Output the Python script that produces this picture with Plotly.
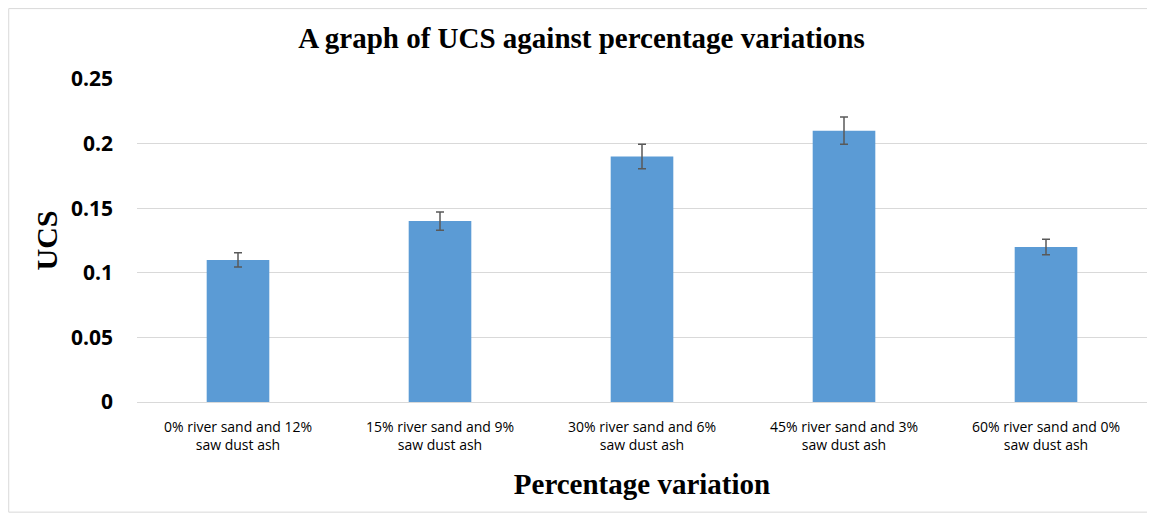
import plotly.graph_objects as go

# data
categories = ['0% river sand and 12%<br>saw dust ash',
              '15% river sand and 9%<br>saw dust ash',
              '30% river sand and 6%<br>saw dust ash',
              '45% river sand and 3%<br>saw dust ash',
              '60% river sand and 0%<br>saw dust ash']
ucs = [0.11, 0.14, 0.19, 0.21, 0.12]
ucs_err = [0.0055, 0.007, 0.0095, 0.0105, 0.006]
y_ticks = [0, 0.05, 0.1, 0.15, 0.2, 0.25]
y_tick_text = ['0', '0.05', '0.1', '0.15', '0.2', '0.25']

fig = go.Figure(go.Bar(
    x=categories, y=ucs,
    marker=dict(color='#5B9BD5', line=dict(width=0)),
    error_y=dict(type='data', array=ucs_err, visible=True,
                 color='#595959', thickness=1.5, width=4),
))

# page body has an 8px margin, so the figure is a little smaller than the window
fig.update_layout(
    width=1147, height=508,
    title=dict(text='<b>A graph of UCS against percentage variations</b>',
               x=0.5, xanchor='center', y=0.941, yanchor='middle',
               font=dict(family='Liberation Serif', size=29, color='black')),
    plot_bgcolor='white', paper_bgcolor='white',
    bargap=0.69, showlegend=False,
    margin=dict(l=129, r=8, t=71, b=114),
    # light frame around the whole chart
    shapes=[dict(type='rect', xref='paper', yref='paper',
                 x0=-0.127, x1=1.003, y0=-0.341, y1=1.218,
                 line=dict(color='#D9D9D9', width=1))],
)

fig.update_xaxes(
    showgrid=False, showline=True, linecolor='#D9D9D9', linewidth=1,
    tickfont=dict(family='Open Sans', size=14, color='black'),
    ticklabelstandoff=12,
    title=dict(text='<b>Percentage variation</b>', standoff=20,
               font=dict(family='Liberation Serif', size=29, color='black')),
)

fig.update_yaxes(
    range=[0, 0.25], tickvals=y_ticks, ticktext=y_tick_text,
    showgrid=True, gridcolor='#D9D9D9', gridwidth=1, zeroline=False,
    tickfont=dict(family='Open Sans', size=21, color='black', weight='bold'),
    ticklabelstandoff=23,
    title=dict(text='<b>UCS</b>', standoff=4,
               font=dict(family='Liberation Serif', size=30, color='black')),
)

fig.write_html("out.html")
